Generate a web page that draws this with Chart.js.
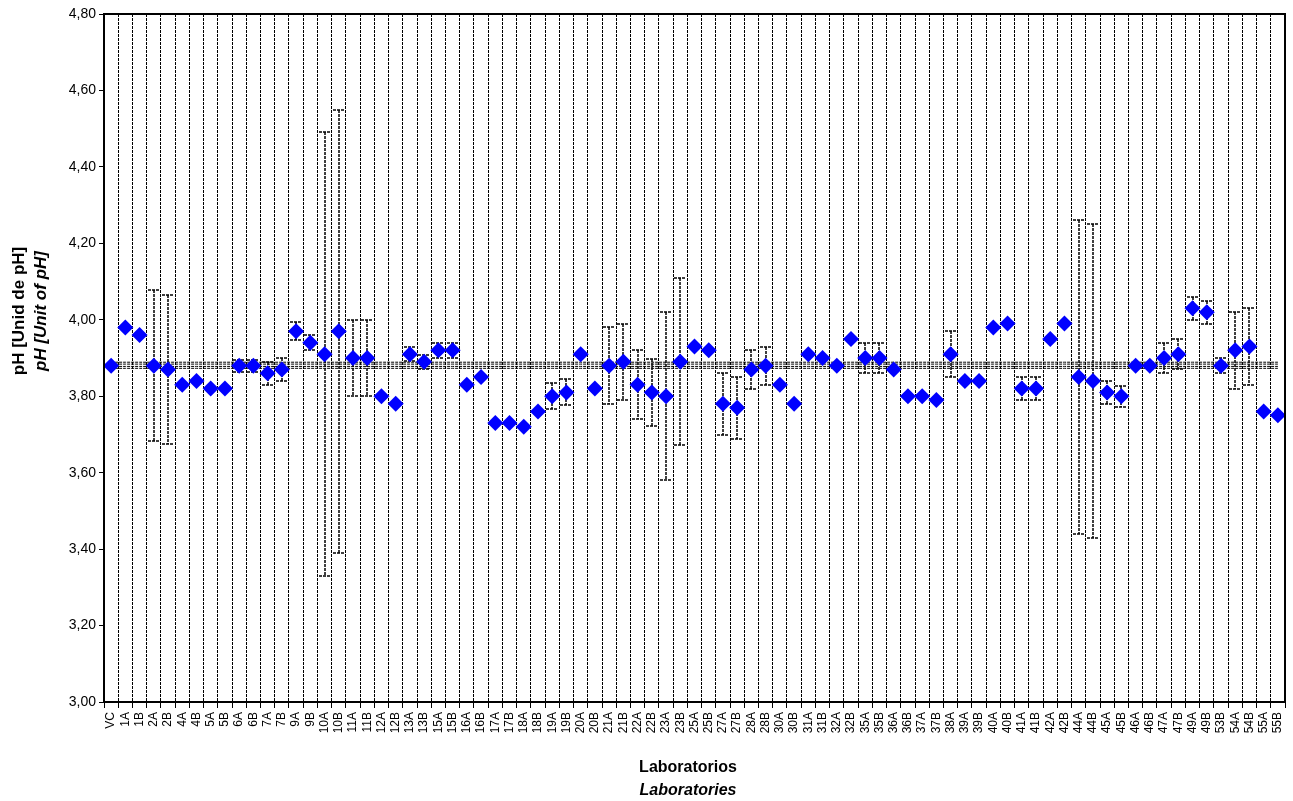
<!DOCTYPE html>
<html>
<head>
<meta charset="utf-8">
<script src="https://cdn.jsdelivr.net/npm/chart.js@4/dist/chart.umd.min.js"></script>
<style>
  html, body { margin: 0; padding: 0; background: #fff; }
  canvas { display: block; }
</style>
</head>
<body>
<canvas id="ph" width="1293" height="801"></canvas>
<script>
// Participating laboratories
const labs = ['VC','1A','1B','2A','2B','4A','4B','5A','5B','6A','6B','7A','7B','9A','9B','10A','10B',
  '11A','11B','12A','12B','13A','13B','15A','15B','16A','16B','17A','17B','18A','18B','19A','19B',
  '20A','20B','21A','21B','22A','22B','23A','23B','25A','25B','27A','27B','28A','28B','30A','30B',
  '31A','31B','32A','32B','35A','35B','36A','36B','37A','37B','38A','39A','39B','40A','40B','41A',
  '41B','42A','42B','44A','44B','45A','45B','46A','46B','47A','47B','49A','49B','53B','54A','54B',
  '55A','55B'];

// Reported pH results
const phValues = [3.88,3.98,3.96,3.88,3.87,3.83,3.84,3.82,3.82,3.88,3.88,3.86,3.87,3.97,3.94,3.91,3.97,
  3.90,3.90,3.80,3.78,3.91,3.89,3.92,3.92,3.83,3.85,3.73,3.73,3.72,3.76,3.80,3.81,
  3.91,3.82,3.88,3.89,3.83,3.81,3.80,3.89,3.93,3.92,3.78,3.77,3.87,3.88,3.83,3.78,
  3.91,3.90,3.88,3.95,3.90,3.90,3.87,3.80,3.80,3.79,3.91,3.84,3.84,3.98,3.99,3.82,
  3.82,3.95,3.99,3.85,3.84,3.81,3.80,3.88,3.88,3.90,3.91,4.03,4.02,3.88,3.92,3.93,
  3.76,3.75];

// Expanded uncertainty declared by each laboratory (null = not reported)
const phUncert = [null,null,null,0.197,0.196,null,null,null,null,0.016,0.016,0.03,0.03,0.023,0.02,0.58,0.58,
  0.10,0.10,null,null,0.018,0.018,0.02,0.02,null,null,null,null,null,null,0.034,0.034,
  null,null,0.10,0.10,0.09,0.087,0.22,0.218,null,null,0.082,0.081,0.05,0.05,null,null,
  null,null,null,null,0.04,0.04,null,null,null,null,0.06,null,null,null,null,0.03,
  0.03,null,null,0.41,0.41,0.03,0.028,null,null,0.04,0.04,0.03,0.03,0.02,0.10,0.10,
  null,null];

// Assigned value band
const refValues = [3.889, 3.884, 3.878, 3.873];

// Y axis range and step
const yMin = 3.0, yMax = 4.8, yStep = 0.2;

const FONT = '"Liberation Sans", Arial, Helvetica, sans-serif';

const errorBars = {
  id: 'errorBars',
  beforeDatasetsDraw(chart) {
    const { ctx, scales: { x, y } } = chart;
    ctx.save();
    ctx.strokeStyle = '#000';
    ctx.lineWidth = 1.5;
    ctx.setLineDash([3, 1]);
    phUncert.forEach((u, i) => {
      if (u == null) return;
      const px = Math.round(x.getPixelForValue(i));
      const top = Math.round(y.getPixelForValue(phValues[i] + u));
      const bot = Math.round(y.getPixelForValue(phValues[i] - u));
      ctx.beginPath();
      ctx.moveTo(px, top); ctx.lineTo(px, bot);
      ctx.moveTo(px - 6, top); ctx.lineTo(px + 6, top);
      ctx.moveTo(px - 6, bot); ctx.lineTo(px + 6, bot);
      ctx.stroke();
    });
    ctx.restore();
  }
};

const frameAndTitles = {
  id: 'frameAndTitles',
  afterDraw(chart) {
    const { ctx, chartArea: a } = chart;
    ctx.save();
    ctx.strokeStyle = '#000';
    ctx.lineWidth = 2;
    ctx.setLineDash([]);
    ctx.strokeRect(a.left, a.top, a.right - a.left, a.bottom - a.top);

    ctx.fillStyle = '#000';
    ctx.textAlign = 'center';
    // Y axis title, two lines
    ctx.save();
    ctx.translate(19, 311);
    ctx.rotate(-Math.PI / 2);
    ctx.textBaseline = 'middle';
    ctx.font = 'bold 17px ' + FONT;
    ctx.fillText('pH [Unid de pH]', 0, 0);
    ctx.restore();
    ctx.save();
    ctx.translate(41, 311);
    ctx.rotate(-Math.PI / 2);
    ctx.textBaseline = 'middle';
    ctx.font = 'italic bold 17px ' + FONT;
    ctx.fillText('pH [Unit of pH]', 0, 0);
    ctx.restore();

    // X axis title, two lines
    ctx.textBaseline = 'alphabetic';
    ctx.font = 'bold 16px ' + FONT;
    ctx.fillText('Laboratorios', 688, 772);
    ctx.font = 'italic bold 16px ' + FONT;
    ctx.fillText('Laboratories', 688, 795);
    ctx.restore();
  }
};

const datasets = [{
  type: 'line',
  label: 'pH',
  data: phValues,
  showLine: false,
  pointStyle: 'rectRot',
  pointRadius: 8,
  pointBorderWidth: 0,
  pointBackgroundColor: '#0000FF',
  pointBorderColor: '#0000FF',
  order: 0
}];
refValues.forEach((v, k) => {
  datasets.push({
    type: 'line',
    label: 'ref' + k,
    data: labs.map(() => v),
    borderColor: '#000',
    borderWidth: 1,
    borderDash: [3, 1],
    pointRadius: 0,
    fill: false,
    order: 1
  });
});

new Chart(document.getElementById('ph'), {
  type: 'line',
  data: { labels: labs, datasets },
  options: {
    responsive: false,
    animation: false,
    layout: { padding: { top: 14, right: 5, left: 0, bottom: 0 } },
    plugins: { legend: { display: false }, tooltip: { enabled: false } },
    scales: {
      x: {
        type: 'category',
        offset: true,
        afterFit(s) { s.height = 99; s.paddingLeft = 0; s.paddingRight = 0; },
        grid: {
          offset: true,
          color: '#000',
          lineWidth: 1,
          drawTicks: true,
          tickLength: 6,
          tickColor: '#000',
          tickWidth: 1
        },
        border: { display: true, color: '#000', width: 2, dash: [3, 1] },
        ticks: {
          autoSkip: false,
          maxRotation: 90,
          minRotation: 90,
          padding: 4,
          color: '#000',
          font: { family: FONT, size: 12 }
        }
      },
      y: {
        min: yMin,
        max: yMax,
        afterFit(s) { s.width = 104; s.paddingTop = 0; s.paddingBottom = 0; },
        afterBuildTicks(s) {
          const t = [];
          for (let v = yMin; v <= yMax + 1e-9; v += yStep) t.push({ value: Math.round(v * 100) / 100 });
          s.ticks = t;
        },
        grid: {
          drawOnChartArea: false,
          drawTicks: true,
          tickLength: 5,
          tickColor: '#000',
          tickWidth: 1
        },
        border: { display: true, color: '#000', width: 2 },
        ticks: {
          padding: 3,
          color: '#000',
          font: { family: FONT, size: 14 },
          callback: (v) => Number(v).toFixed(2).replace('.', ',')
        }
      }
    }
  },
  plugins: [errorBars, frameAndTitles]
});
</script>
</body>
</html>
